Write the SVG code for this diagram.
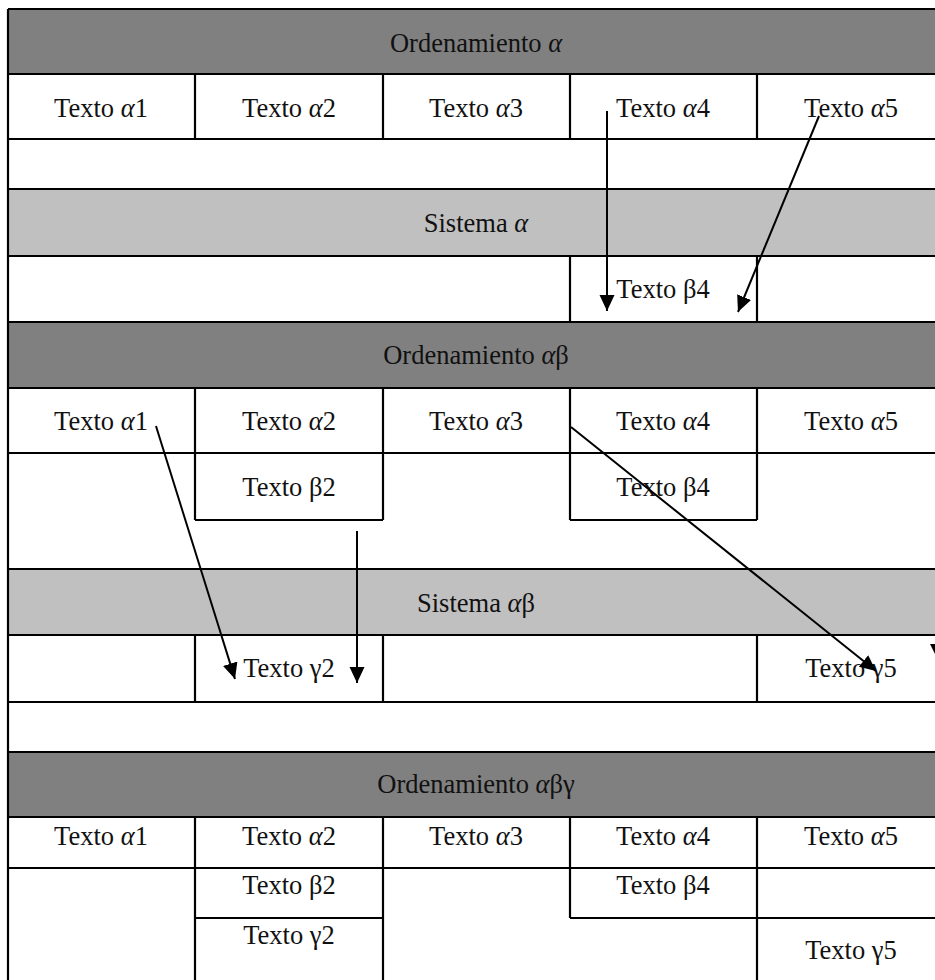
<svg xmlns="http://www.w3.org/2000/svg" width="935" height="980" viewBox="0 0 935 980">
<style>
text{font-family:"Liberation Serif","Times New Roman",serif;font-size:26.5px;fill:#111;text-anchor:middle}
.a{font-style:italic}
.dark{fill:#808080}
.light{fill:#c0c0c0}
.grid{fill:none;stroke:#000;stroke-width:2.2}
.conn{fill:none;stroke:#000;stroke-width:2}
</style>
<defs>
<marker id="ah" markerUnits="userSpaceOnUse" markerWidth="17" markerHeight="16" refX="16" refY="7.5" orient="auto">
<path d="M0,0 L16,7.5 L0,15 z" fill="#000"/>
</marker>
</defs>
<rect x="0" y="0" width="935" height="980" fill="#fff"/>

<!-- Section 1 -->
<g id="ord-a"><rect class="dark" x="8" y="9" width="937" height="65"/><text x="476" y="52">Ordenamiento <tspan class="a">α</tspan></text></g>
<g id="s1-a1"><text x="101" y="117">Texto <tspan class="a">α</tspan>1</text></g>
<g id="s1-a2"><text x="289" y="117">Texto <tspan class="a">α</tspan>2</text></g>
<g id="s1-a3"><text x="476" y="117">Texto <tspan class="a">α</tspan>3</text></g>
<g id="s1-a4"><text x="663" y="117">Texto <tspan class="a">α</tspan>4</text></g>
<g id="s1-a5"><text x="851" y="117">Texto <tspan class="a">α</tspan>5</text></g>
<g id="sis-a"><rect class="light" x="8" y="189" width="937" height="67"/><text x="476" y="232">Sistema <tspan class="a">α</tspan></text></g>
<g id="s1-b4"><text x="663" y="298">Texto β4</text></g>

<!-- Section 2 -->
<g id="ord-ab"><rect class="dark" x="8" y="322" width="937" height="66"/><text x="476" y="364">Ordenamiento <tspan class="a">α</tspan>β</text></g>
<g id="s2-a1"><text x="101" y="430">Texto <tspan class="a">α</tspan>1</text></g>
<g id="s2-a2"><text x="289" y="430">Texto <tspan class="a">α</tspan>2</text></g>
<g id="s2-a3"><text x="476" y="430">Texto <tspan class="a">α</tspan>3</text></g>
<g id="s2-a4"><text x="663" y="430">Texto <tspan class="a">α</tspan>4</text></g>
<g id="s2-a5"><text x="851" y="430">Texto <tspan class="a">α</tspan>5</text></g>
<g id="s2-b2"><text x="289" y="496">Texto β2</text></g>
<g id="s2-b4"><text x="663" y="496">Texto β4</text></g>
<g id="sis-ab"><rect class="light" x="8" y="569" width="937" height="66"/><text x="476" y="612">Sistema <tspan class="a">α</tspan>β</text></g>
<g id="s2-g2"><text x="289" y="677">Texto γ2</text></g>
<g id="s2-g5"><text x="851" y="677">Texto γ5</text></g>

<!-- Section 3 -->
<g id="ord-abg"><rect class="dark" x="8" y="752" width="937" height="65"/><text x="476" y="793">Ordenamiento <tspan class="a">α</tspan>βγ</text></g>
<g id="s3-a1"><text x="101" y="845">Texto <tspan class="a">α</tspan>1</text></g>
<g id="s3-a2"><text x="289" y="845">Texto <tspan class="a">α</tspan>2</text></g>
<g id="s3-a3"><text x="476" y="845">Texto <tspan class="a">α</tspan>3</text></g>
<g id="s3-a4"><text x="663" y="845">Texto <tspan class="a">α</tspan>4</text></g>
<g id="s3-a5"><text x="851" y="845">Texto <tspan class="a">α</tspan>5</text></g>
<g id="s3-b2"><text x="289" y="894">Texto β2</text></g>
<g id="s3-b4"><text x="663" y="894">Texto β4</text></g>
<g id="s3-g2"><text x="289" y="944">Texto γ2</text></g>
<g id="s3-g5"><text x="851" y="959">Texto γ5</text></g>

<g id="grid" class="grid">
<path d="M8,9 H945 M8,74 H945 M8,139 H945 M8,189 H945 M8,256 H945 M8,322 H945 M8,388 H945 M8,453 H945 M8,569 H945 M8,635 H945 M8,702 H945 M8,752 H945 M8,817 H945 M8,868 H945
M195,520 H383 M570,520 H757 M195,918 H383 M570,918 H945
M8,9 V980
M195,74 V139 M383,74 V139 M570,74 V139 M757,74 V139
M570,256 V322 M757,256 V322
M195,388 V520 M383,388 V520 M570,388 V520 M757,388 V520
M195,635 V702 M383,635 V702 M757,635 V702
M195,817 V980 M383,817 V980 M570,817 V918 M757,817 V980"/>
</g>

<g id="connectors">
<path class="conn" d="M607,111 L607,311" marker-end="url(#ah)"/>
<path class="conn" d="M819,116 L738,312" marker-end="url(#ah)"/>
<path class="conn" d="M156,426 L235,679" marker-end="url(#ah)"/>
<path class="conn" d="M357,531 L357,683" marker-end="url(#ah)"/>
<path class="conn" d="M571,427 L876,671" marker-end="url(#ah)"/>
<polygon points="930,644 936,644 936,656" fill="#000"/>
</g>
</svg>
